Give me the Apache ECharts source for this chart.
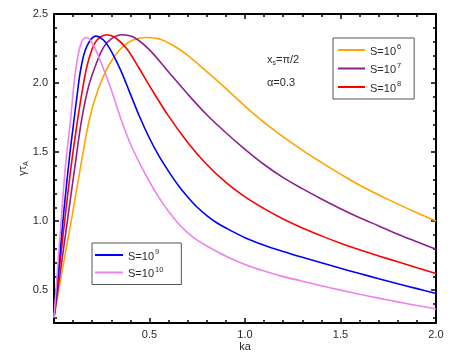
<!DOCTYPE html>
<html>
<head>
<meta charset="utf-8">
<script src="https://cdn.jsdelivr.net/npm/echarts@6/dist/echarts.min.js"></script>
<style>
  html, body { margin: 0; padding: 0; background: #fff; }
  #chart { width: 452px; height: 362px; }
</style>
</head>
<body>
<div id="chart"></div>
<script>
// values
const xS6 = [0, 0.04, 0.09, 0.14, 0.185, 0.23, 0.29, 0.35, 0.41, 0.476, 0.55, 0.6, 0.65, 0.7, 0.764, 0.9, 1.026, 1.15, 1.288, 1.4, 1.5, 1.6, 1.759, 1.9, 2.0];
const yS6 = [0.3, 0.62, 1.0, 1.4, 1.736, 1.95, 2.136, 2.25, 2.31, 2.33, 2.32, 2.29, 2.25, 2.2, 2.125, 1.96, 1.80, 1.66, 1.525, 1.425, 1.34, 1.26, 1.15, 1.06, 1.0];

const xS7 = [0, 0.03, 0.07, 0.11, 0.145, 0.18, 0.22, 0.26, 0.3, 0.354, 0.42, 0.5, 0.6, 0.7, 0.8, 0.9, 1.0, 1.1, 1.2, 1.3, 1.4, 1.5, 1.6, 1.7, 1.8, 1.9, 2.0];
const yS7 = [0.3, 0.6, 1.0, 1.4, 1.736, 1.97, 2.136, 2.26, 2.32, 2.35, 2.33, 2.24, 2.08, 1.92, 1.77, 1.64, 1.52, 1.41, 1.315, 1.235, 1.16, 1.09, 1.025, 0.965, 0.905, 0.85, 0.796];

const xS8 = [0, 0.03, 0.06, 0.09, 0.124, 0.15, 0.175, 0.21, 0.24, 0.276, 0.32, 0.38, 0.44, 0.5, 0.6, 0.7, 0.8, 0.9, 1.0, 1.1, 1.2, 1.3, 1.4, 1.5, 1.6, 1.7, 1.8, 1.9, 2.0];
const yS8 = [0.3, 0.68, 1.05, 1.4, 1.736, 1.96, 2.136, 2.28, 2.33, 2.35, 2.33, 2.25, 2.12, 1.98, 1.76, 1.57, 1.41, 1.28, 1.175, 1.09, 1.015, 0.95, 0.893, 0.84, 0.792, 0.748, 0.705, 0.662, 0.62];

const xS9 = [0, 0.02, 0.05, 0.08, 0.105, 0.12, 0.14, 0.17, 0.218, 0.26, 0.3, 0.35, 0.4, 0.45, 0.5, 0.55, 0.6, 0.65, 0.7, 0.75, 0.8, 0.85, 0.9, 1.0, 1.1, 1.2, 1.3, 1.4, 1.5, 1.6, 1.7, 1.8, 1.9, 2.0];
const yS9 = [0.3, 0.6, 1.05, 1.45, 1.736, 1.9, 2.1, 2.26, 2.34, 2.31, 2.23, 2.09, 1.92, 1.75, 1.6, 1.47, 1.36, 1.26, 1.175, 1.1, 1.04, 0.99, 0.95, 0.88, 0.826, 0.78, 0.738, 0.698, 0.658, 0.62, 0.583, 0.546, 0.511, 0.476];

const xS10 = [0, 0.02, 0.04, 0.06, 0.087, 0.1, 0.115, 0.14, 0.168, 0.2, 0.24, 0.3, 0.35, 0.4, 0.45, 0.5, 0.55, 0.6, 0.65, 0.7, 0.75, 0.8, 0.9, 1.0, 1.1, 1.2, 1.3, 1.4, 1.5, 1.6, 1.7, 1.8, 1.9, 2.0];
const yS10 = [0.3, 0.68, 1.05, 1.4, 1.736, 1.93, 2.11, 2.28, 2.33, 2.29, 2.17, 1.95, 1.74, 1.56, 1.415, 1.285, 1.17, 1.07, 0.985, 0.915, 0.862, 0.82, 0.745, 0.685, 0.638, 0.598, 0.565, 0.532, 0.5, 0.47, 0.442, 0.415, 0.389, 0.364];

const seriesNames = ['S=10^6', 'S=10^7', 'S=10^8', 'S=10^9', 'S=10^10'];
const seriesColors = ['#ffa500', '#8e1f8e', '#ff0000', '#0000ff', '#ee82ee'];
const seriesX = [xS6, xS7, xS8, xS9, xS10];
const seriesY = [yS6, yS7, yS8, yS9, yS10];

const yMajorTicks = [0.5, 1.0, 1.5, 2.0, 2.5];
const yMinorTicks = [0.3, 0.4, 0.6, 0.7, 0.8, 0.9, 1.1, 1.2, 1.3, 1.4, 1.6, 1.7, 1.8, 1.9, 2.1, 2.2, 2.3, 2.4];

const FONT = 'Liberation Sans';
const TXT = '#2a2a2a';

const zip = (xs, ys) => xs.map((x, i) => [x, ys[i]]);

const legendFormatter = (name) => {
  const p = name.split('^');
  return '{b|' + p[0] + '}{s|' + p[1] + '}';
};
const legendRich = {
  b: { fontFamily: FONT, fontSize: 11, color: TXT, lineHeight: 14, verticalAlign: 'bottom' },
  s: { fontFamily: FONT, fontSize: 7.5, color: TXT, lineHeight: 14, verticalAlign: 'top', padding: [0, 0, 0, 1] },
};

const lineTick = { show: true, inside: true, lineStyle: { color: '#000', width: 1.5 } };

const chart = echarts.init(document.getElementById('chart'), null, { renderer: 'canvas' });

chart.setOption({
  animation: false,
  backgroundColor: '#fff',
  grid: { left: 54, right: 16, top: 14, bottom: 39 },
  legend: [
    {
      data: seriesNames.slice(0, 3),
      orient: 'vertical',
      left: 333, top: 38,
      padding: [5, 13, 5, 5],
      itemGap: 4.5,
      itemWidth: 27, itemHeight: 2,
      icon: 'rect',
      borderColor: '#555', borderWidth: 1,
      selectedMode: false,
      formatter: legendFormatter,
      textStyle: { rich: legendRich },
    },
    {
      data: seriesNames.slice(3),
      orient: 'vertical',
      left: 92, top: 243,
      padding: [5, 18, 5, 3],
      itemGap: 3.5,
      itemWidth: 28, itemHeight: 2,
      icon: 'rect',
      borderColor: '#555', borderWidth: 1,
      selectedMode: false,
      formatter: legendFormatter,
      textStyle: { rich: legendRich },
    },
  ],
  xAxis: [
    {
      type: 'value', position: 'bottom', min: 0, max: 2, interval: 0.5,
      name: 'ka', nameLocation: 'middle', nameGap: 18, nameMoveOverlap: false,
      nameTextStyle: { fontFamily: FONT, fontSize: 11, color: TXT },
      axisLine: { onZero: false, lineStyle: { color: '#000', width: 2 } },
      axisTick: Object.assign({ length: 5 }, lineTick),
      minorTick: { show: true, splitNumber: 5, length: 3, lineStyle: { color: '#000', width: 1.5 } },
      axisLabel: {
        fontFamily: FONT, fontSize: 11, color: TXT, margin: 6,
        formatter: (v) => (v === 0 ? '' : v.toFixed(1)),
      },
      splitLine: { show: false },
    },
    {
      type: 'value', position: 'top', min: 0, max: 2, interval: 0.5,
      axisLine: { onZero: false, lineStyle: { color: '#000', width: 2 } },
      axisTick: Object.assign({ length: 5 }, lineTick),
      minorTick: { show: true, splitNumber: 5, length: 3, lineStyle: { color: '#000', width: 1.5 } },
      axisLabel: { show: false },
      splitLine: { show: false },
    },
  ],
  yAxis: [
    {
      type: 'value', position: 'left', min: 0.262, max: 2.5,
      name: '{a|γτ}{s|A}', nameLocation: 'middle', nameGap: 24, nameRotate: 90, nameMoveOverlap: false,
      nameTextStyle: {
        rich: {
          a: { fontFamily: FONT, fontSize: 11, color: TXT, lineHeight: 14 },
          s: { fontFamily: FONT, fontSize: 7, color: TXT, lineHeight: 14, verticalAlign: 'bottom' },
        },
      },
      axisLine: { onZero: false, lineStyle: { color: '#000', width: 2 } },
      axisTick: Object.assign({ length: 5, customValues: yMajorTicks }, lineTick),
      axisLabel: {
        fontFamily: FONT, fontSize: 11, color: TXT, margin: 6,
        customValues: yMajorTicks,
        formatter: (v) => v.toFixed(1),
      },
      splitLine: { show: false },
    },
    {
      type: 'value', position: 'left', min: 0.262, max: 2.5,
      axisLine: { show: false, onZero: false },
      axisTick: Object.assign({ length: 3, customValues: yMinorTicks }, lineTick),
      axisLabel: { show: false },
      splitLine: { show: false },
    },
    {
      type: 'value', position: 'right', min: 0.262, max: 2.5,
      axisLine: { onZero: false, lineStyle: { color: '#000', width: 2 } },
      axisTick: Object.assign({ length: 5, customValues: yMajorTicks }, lineTick),
      axisLabel: { show: false },
      splitLine: { show: false },
    },
    {
      type: 'value', position: 'right', min: 0.262, max: 2.5,
      axisLine: { show: false, onZero: false },
      axisTick: Object.assign({ length: 3, customValues: yMinorTicks }, lineTick),
      axisLabel: { show: false },
      splitLine: { show: false },
    },
  ],
  graphic: [
    {
      type: 'text', left: 267, top: 54,
      style: {
        text: '{a|x}{s|s}{a|=π/2}',
        rich: {
          a: { fontFamily: FONT, fontSize: 11, fill: TXT, lineHeight: 14 },
          s: { fontFamily: FONT, fontSize: 7, fill: TXT, lineHeight: 14, verticalAlign: 'bottom' },
        },
      },
    },
    {
      type: 'text', left: 267, top: 77,
      style: { text: 'α=0.3', fontFamily: FONT, fontSize: 11, fill: TXT },
    },
  ],
  series: seriesNames.map((name, i) => ({
    name: name,
    type: 'line',
    xAxisIndex: 0,
    yAxisIndex: 0,
    data: zip(seriesX[i], seriesY[i]),
    showSymbol: false,
    smooth: 0.35,
    clip: true,
    color: seriesColors[i],
    lineStyle: { color: seriesColors[i], width: 1.6 },
  })),
});
</script>
</body>
</html>
